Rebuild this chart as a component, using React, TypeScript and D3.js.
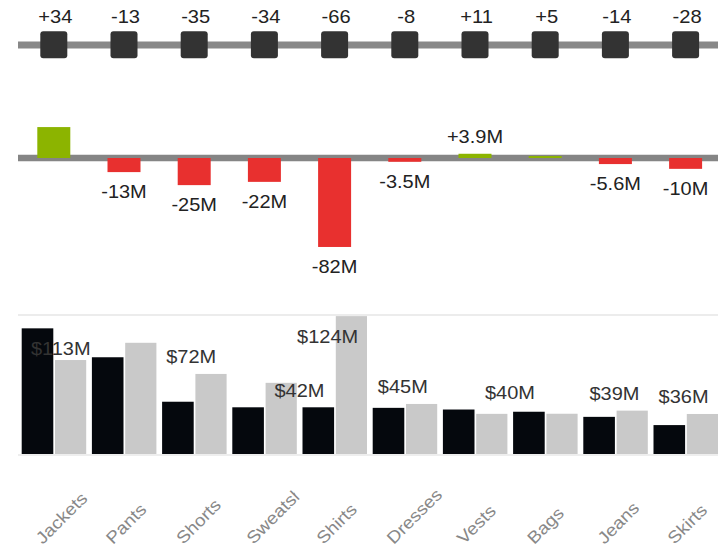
import React from "react";
import * as d3 from "d3";

const categories = ["Jackets", "Pants", "Shorts", "Sweatshirts", "Shirts", "Dresses", "Vests", "Bags", "Jeans", "Skirts"];
const actual = [113, 87, 47, 42, 42, 41.5, 40, 38, 33.4, 26];
const previous = [84.5, 100, 72, 64, 124, 45, 36.1, 36.2, 39, 36];
const totalLabels = [113, null, 72, 42, 124, 45, 40, null, 39, 36];
const hiddenVarianceLabels = ["Jackets", "Bags"];

// layout tweaks (pixels) for the total labels
const totalLabelShift = [7, 0, -3, 35, -7, -2, 35, 0, -1, -2];

const W = 727;
const H = 549;
const FONT = "'Liberation Sans', Arial, sans-serif";

const variance = actual.map((a, i) => a - previous[i]);
const pct = actual.map((a, i) => ((a - previous[i]) / previous[i]) * 100);

const fmtPct = (v: number) => {
  const r = Math.round(v);
  return (r > 0 ? "+" : "") + r;
};
const fmtVar = (v: number) => {
  const s = Math.abs(v) < 10 ? Math.abs(v).toFixed(1) : String(Math.round(Math.abs(v)));
  return (v >= 0 ? "+" : "-") + s + "M";
};

export default function App() {
  const x = d3.scaleBand<string>().domain(categories).range([18.7, 720.7]).padding(0);
  const cx = (c: string) => (x(c) as number) + x.bandwidth() / 2;

  const yM = d3.scaleLinear().domain([0, -100]).range([158, 266.5]);
  const yB = d3.scaleLinear().domain([0, 125]).range([454, 315]);

  const lineX1 = 18;
  const lineX2 = 718;

  const SX = 1.13;

  return (
    <svg width={W} height={H} style={{ position: "absolute", left: 0, top: 0, background: "#fff" }} fontFamily={FONT}>
      <defs>
        <clipPath id="lblclip">
          <rect x={-2} y={-20} width={68} height={30} />
        </clipPath>
      </defs>

      {/* Top: percentage variance */}
      <line x1={lineX1} x2={lineX2} y1={45} y2={45} stroke="#888" strokeWidth={7} />
      {categories.map((c, i) => (
        <g key={"t" + c}>
          <rect x={cx(c) - 13.5} y={31.3} width={27} height={27} rx={3} fill="#333" />
          <g transform={`translate(${cx(c) + 1.5},${23})`}>
            <text transform="scale(1.15,1)" textAnchor="middle" fontSize={17.5} fill="#222">
              {fmtPct(pct[i])}
            </text>
          </g>
        </g>
      ))}

      {/* Middle: absolute variance */}
      <line x1={lineX1} x2={lineX2} y1={158} y2={158} stroke="#858585" strokeWidth={6.5} />
      {categories.map((c, i) => {
        const v = variance[i];
        const y0 = yM(0);
        const y1 = yM(v);
        return (
          <rect
            key={"m" + c}
            x={cx(c) - 16.5}
            y={Math.min(y0, y1)}
            width={33}
            height={Math.abs(y1 - y0)}
            fill={v >= 0 ? "#8cb400" : "#e8302f"}
          />
        );
      })}
      {categories.map((c, i) => {
        if (hiddenVarianceLabels.includes(c)) return null;
        const v = variance[i];
        const yy = v >= 0 ? yM(v) - 11 : yM(v) + 26;
        return (
          <g key={"ml" + c} transform={`translate(${cx(c)},${yy})`}>
            <text transform={`scale(${SX},1)`} textAnchor="middle" fontSize={17.7} fill="#222">
              {fmtVar(v)}
            </text>
          </g>
        );
      })}

      {/* Bottom: actual vs previous */}
      <line x1={lineX1} x2={lineX2} y1={yB(125)} y2={yB(125)} stroke="#e6e6e6" strokeWidth={1.5} />
      {categories.map((c, i) => (
        <g key={"b" + c}>
          <rect x={cx(c) - 32.1} y={yB(actual[i])} width={31.6} height={yB(0) - yB(actual[i])} fill="#05080d" />
          <rect x={cx(c) + 1.2} y={yB(previous[i])} width={31.2} height={yB(0) - yB(previous[i])} fill="#c9c9c9" />
        </g>
      ))}
      <line x1={lineX1} x2={lineX2} y1={455} y2={455} stroke="#e8e8e8" strokeWidth={1.5} />
      {categories.map((c, i) => {
        const v = totalLabels[i];
        if (v == null) return null;
        let yy = yB(v) - 10.5;
        if (yy - 13 < yB(125)) yy = yB(v) + 27;
        return (
          <g key={"bl" + c} transform={`translate(${cx(c) + totalLabelShift[i]},${yy})`}>
            <text transform={`scale(${SX},1)`} textAnchor="middle" fontSize={17.7} fill="#333">
              {"$" + v + "M"}
            </text>
          </g>
        );
      })}

      {/* X axis labels */}
      {categories.map((c) => (
        <g key={"x" + c} transform={`translate(${cx(c) - 11},${545}) rotate(-45)`}>
          <g clipPath={c.length > 8 ? "url(#lblclip)" : undefined}>
            <text transform="scale(1.12,1)" fontSize={17} fill="#888">
              {c}
            </text>
          </g>
        </g>
      ))}
    </svg>
  );
}
